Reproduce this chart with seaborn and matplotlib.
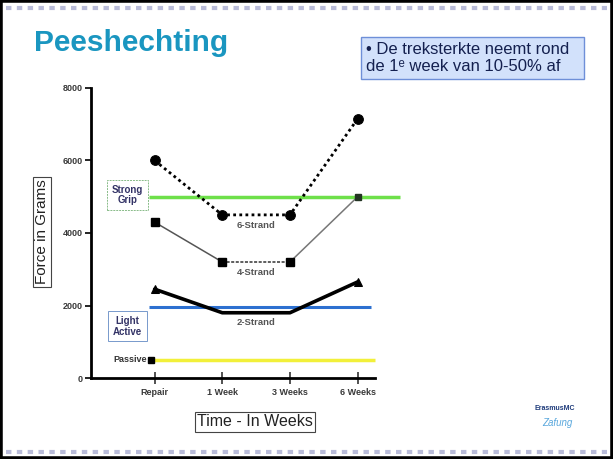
import matplotlib
matplotlib.use("Agg")
import matplotlib.pyplot as plt
import seaborn as sns
import pandas as pd
from matplotlib.lines import Line2D
from matplotlib.patches import Rectangle

# data
time_labels = ["Repair", "1 Week", "3 Weeks", "6 Weeks"]
strand6 = [6000, 4500, 4500, 7150]
strand4 = [4300, 3200, 3200, 5000]
strand2 = [2450, 1800, 1800, 2650]
strong_grip = 5000
light_active = 1950
passive = 500

sns.set_style("white")
plt.rcParams["font.family"] = ["Liberation Sans", "DejaVu Sans"]

fig = plt.figure(figsize=(6.13, 4.59), dpi=100)
W, H = 613, 459

# slide decorations
fig.add_artist(Rectangle((0, 0), 1, 1, transform=fig.transFigure, fill=False,
                         edgecolor="black", linewidth=4))
for yy in [8, 452]:
    fig.add_artist(Line2D([0.01, 0.99], [1 - yy / H] * 2, transform=fig.transFigure,
                          color="#b9bcd9", linewidth=3, linestyle=(0, (1.3, 1.3))))
fig.text(34 / W, 1 - 43 / H, "Peeshechting", fontsize=21.5, fontweight="bold",
         color="#1a96c0", va="center", ha="left")
fig.text(366 / W, 1 - 58 / H, "• De treksterkte neemt rond  \nde 1ᵉ week van 10-50% af",
         fontsize=12, color="#14204f", va="center", ha="left", linespacing=1.1,
         bbox=dict(boxstyle="square,pad=0.3", facecolor="#d2e1fb", edgecolor="#6e8fd8",
                   linewidth=1))

# chart axes
ax = fig.add_axes([91 / W, 1 - 378 / H, (405 - 91) / W, (378 - 88) / H])
x = list(range(len(time_labels)))

df6 = pd.DataFrame({"t": x, "f": strand6})
sns.lineplot(data=df6, x="t", y="f", ax=ax, color="black", linewidth=2,
             linestyle=(0, (1, 1.2)), marker="o", markersize=7, markeredgecolor="black")

df4 = pd.DataFrame({"t": x, "f": strand4})
sns.lineplot(data=df4.iloc[0:2], x="t", y="f", ax=ax, color="#555555", linewidth=1.1)
sns.lineplot(data=df4.iloc[1:3], x="t", y="f", ax=ax, color="#333333", linewidth=1.1,
             linestyle=(0, (2, 1)))
sns.lineplot(data=df4.iloc[2:4], x="t", y="f", ax=ax, color="#777777", linewidth=1.1)
ax.plot(df4["t"][:3], df4["f"][:3], linestyle="none", marker="s", markersize=6, color="black")
ax.plot(df4["t"][3:], df4["f"][3:], linestyle="none", marker="s", markersize=5, color="#223322")

# reference levels
ax.hlines(strong_grip, -0.08, 3.62, color="#6ee04a", linewidth=2.5, zorder=1)
ax.hlines(light_active, -0.08, 3.2, color="#2d70d0", linewidth=2.2, zorder=1)
ax.hlines(passive, -0.08, 3.25, color="#f2f03a", linewidth=2.5, zorder=1)

df2 = pd.DataFrame({"t": x, "f": strand2})
sns.lineplot(data=df2, x="t", y="f", ax=ax, color="black", linewidth=2.6,
             marker="^", markersize=6, markevery=[0, 3], markeredgecolor="black")

ax.set_xlim(-0.94, 3.7)
ax.set_ylim(0, 8000)
ax.set_xticks(x)
ax.set_xticklabels(time_labels)
ax.set_yticks([0, 2000, 4000, 6000, 8000])
ax.tick_params(axis="y", left=True, direction="out", length=4, width=1.2,
               labelsize=6.5, pad=2, color="black")
ax.tick_params(axis="x", bottom=True, direction="inout", length=9, width=1.2,
               labelsize=6.5, pad=3, color="#333333")
for lab in ax.get_xticklabels() + ax.get_yticklabels():
    lab.set_fontweight("bold")
    lab.set_color("#3a3a3a")
ax.set_xlabel("")
ax.set_ylabel("")
ax.spines["top"].set_visible(False)
ax.spines["right"].set_visible(False)
for s in ["left", "bottom"]:
    ax.spines[s].set_linewidth(2)
    ax.spines[s].set_color("black")
ax.spines["bottom"].set_bounds(-0.94, 3.25)
ax.patch.set_alpha(0)

# series labels
lab_kw = dict(fontsize=6.8, fontweight="bold", color="#555555", ha="center", va="center")
ax.text(1.5, 4200, "6-Strand", **lab_kw)
ax.text(1.5, 2900, "4-Strand", **lab_kw)
ax.text(1.5, 1530, "2-Strand", **lab_kw)

box_kw = dict(fontsize=7, fontweight="bold", color="#333366", ha="center", va="center",
              linespacing=1.1)
ax.text(-0.4, 5050, "Strong\nGrip",
        bbox=dict(boxstyle="square,pad=0.5", facecolor="white", edgecolor="#88bb88",
                  linestyle=(0, (2, 1)), linewidth=0.7), **box_kw)
ax.text(-0.4, 1430, "Light\nActive",
        bbox=dict(boxstyle="square,pad=0.5", facecolor="white", edgecolor="#7799cc",
                  linewidth=0.7), **box_kw)
ax.text(-0.12, passive, "Passive", fontsize=6.5, fontweight="bold", color="#333333",
        ha="right", va="center")
ax.plot([-0.06], [passive], marker="s", markersize=4, color="black")

# axis titles in boxes
fig.text(42 / W, 1 - 232 / H, "Force in Grams", rotation=90, fontsize=11, color="#222222",
         ha="center", va="center",
         bbox=dict(boxstyle="square,pad=0.15", facecolor="white", edgecolor="#444444",
                   linewidth=0.8))
fig.text(255 / W, 1 - 422 / H, "Time - In Weeks", fontsize=11.5, color="#222222",
         ha="center", va="center",
         bbox=dict(boxstyle="square,pad=0.15", facecolor="white", edgecolor="#444444",
                   linewidth=0.8))

# logo
fig.text(555 / W, 1 - 408 / H, "ErasmusMC", fontsize=5, fontweight="bold",
         color="#1d3a7a", ha="center", va="center")
fig.text(557 / W, 1 - 423 / H, "Zafung", fontsize=7, style="italic",
         color="#5aa8dd", ha="center", va="center")

fig.savefig("out.png", dpi=100)
